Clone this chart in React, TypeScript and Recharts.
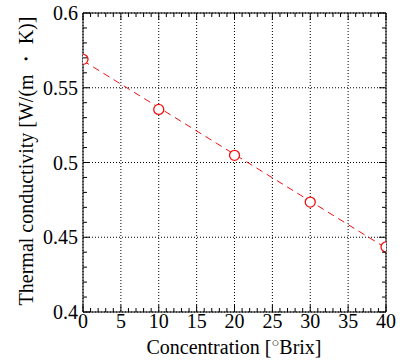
import React from 'react';
import { ScatterChart, Scatter, XAxis, YAxis, CartesianGrid } from 'recharts';

const concentration = [0, 10, 20, 30, 40];
const conductivity = [0.569, 0.5355, 0.5048, 0.4735, 0.4435];

// linear fit ends
const fitX = [0, 40];
const fitY = [0.5681, 0.4428];

const xMajor = [0, 5, 10, 15, 20, 25, 30, 35, 40];
const xMinor = [0, 1, 2, 3, 4, 5, 6, 7, 8, 9, 10, 11, 12, 13, 14, 15, 16, 17, 18, 19, 20,
  21, 22, 23, 24, 25, 26, 27, 28, 29, 30, 31, 32, 33, 34, 35, 36, 37, 38, 39, 40];
const yMajor = [0.4, 0.45, 0.5, 0.55, 0.6];
const yMinor = [0.4, 0.41, 0.42, 0.43, 0.44, 0.45, 0.46, 0.47, 0.48, 0.49, 0.5,
  0.51, 0.52, 0.53, 0.54, 0.55, 0.56, 0.57, 0.58, 0.59, 0.6];

const points = concentration.map((x, i) => ({ x, y: conductivity[i] }));
const fit = fitX.map((x, i) => ({ x, y: fitY[i] }));

const FONT = '"Liberation Serif", "Times New Roman", serif';
const RED = '#f01010';
const MAJOR = 7;
const MINOR = 4;
const axisLine = { stroke: '#000', strokeWidth: 1 };

const isMajorX = (v: number) => xMajor.includes(v);
const isMajorY = (v: number) => yMajor.includes(v);

const Dot = ({ cx, cy }: any) => (
  <circle cx={cx} cy={cy} r={5} fill="#fff" stroke={RED} strokeWidth={1.3} />
);

// ticks point inward; labels only on major values
const BottomTick = ({ x, y, payload }: any) => {
  const major = isMajorX(payload.value);
  return (
    <g>
      <line x1={x} x2={x} y1={y} y2={y - (major ? MAJOR : MINOR)} stroke="#000" />
      {major && (
        <text x={x} y={y + 2} dy="0.71em" textAnchor="middle" style={{ fontFamily: FONT }} fontSize={20} fill="#000">
          {payload.value}
        </text>
      )}
    </g>
  );
};

const TopTick = ({ x, y, payload }: any) => (
  <line x1={x} x2={x} y1={y} y2={y + (isMajorX(payload.value) ? MAJOR : MINOR)} stroke="#000" />
);

const LeftTick = ({ x, y, payload }: any) => {
  const major = isMajorY(payload.value);
  return (
    <g>
      <line x1={x} x2={x + (major ? MAJOR : MINOR)} y1={y} y2={y} stroke="#000" />
      {major && (
        <text x={x - 5} y={y} dy="0.36em" textAnchor="end" style={{ fontFamily: FONT }} fontSize={20} fill="#000">
          {String(payload.value)}
        </text>
      )}
    </g>
  );
};

const RightTick = ({ x, y, payload }: any) => (
  <line x1={x} x2={x - (isMajorY(payload.value) ? MAJOR : MINOR)} y1={y} y2={y} stroke="#000" />
);

export default function App() {
  return (
    <div style={{ position: 'absolute', left: 0, top: 0, width: 415, height: 360, background: '#fff' }}>
      <ScatterChart width={415} height={360} margin={{ top: 12, right: 28, bottom: 0, left: 0 }}>
        <XAxis xAxisId="x" type="number" dataKey="x" domain={[0, 40]} ticks={xMinor} interval={0}
          orientation="bottom" height={48} tickSize={0} tickMargin={0} tickLine={false}
          tick={<BottomTick />} axisLine={axisLine} allowDataOverflow />
        <XAxis xAxisId="t" type="number" dataKey="x" domain={[0, 40]} ticks={xMinor} interval={0}
          orientation="top" height={1} tickSize={0} tickMargin={0} tickLine={false}
          tick={<TopTick />} axisLine={axisLine} allowDataOverflow />

        <YAxis yAxisId="y" type="number" dataKey="y" domain={[0.4, 0.6]} ticks={yMinor} interval={0}
          orientation="left" width={83} tickSize={0} tickMargin={0} tickLine={false}
          tick={<LeftTick />} axisLine={axisLine} allowDataOverflow />
        <YAxis yAxisId="r" type="number" dataKey="y" domain={[0.4, 0.6]} ticks={yMinor} interval={0}
          orientation="right" width={1} tickSize={0} tickMargin={0} tickLine={false}
          tick={<RightTick />} axisLine={axisLine} allowDataOverflow />

        {/* hidden axes carrying the major ticks for the grid */}
        <XAxis xAxisId="g" type="number" dataKey="x" domain={[0, 40]} ticks={xMajor} height={0} hide allowDataOverflow />
        <YAxis yAxisId="g" type="number" dataKey="y" domain={[0.4, 0.6]} ticks={yMajor} width={0} hide allowDataOverflow />
        <CartesianGrid xAxisId="g" yAxisId="g" stroke="#000" strokeDasharray="1 2" />

        <Scatter xAxisId="x" yAxisId="y" data={fit} line={{ stroke: RED, strokeWidth: 1, strokeDasharray: '7 5' }}
          shape={() => null} isAnimationActive={false} />
        <Scatter xAxisId="x" yAxisId="y" data={points} shape={Dot} isAnimationActive={false} />

        <text x={26} y={161} transform="rotate(-90 26 161)" textAnchor="middle" dominantBaseline="central"
          style={{ fontFamily: FONT }} fontSize={20} fill="#000">
          Thermal conductivity [W/(m ・ K)]
        </text>
        <text x={234} y={354} textAnchor="middle" style={{ fontFamily: FONT }} fontSize={20} fill="#000">
          Concentration [<tspan fontSize={13} dy={-7}>{'\u25CB'}</tspan><tspan dy={7}>Brix]</tspan>
        </text>
      </ScatterChart>
    </div>
  );
}
